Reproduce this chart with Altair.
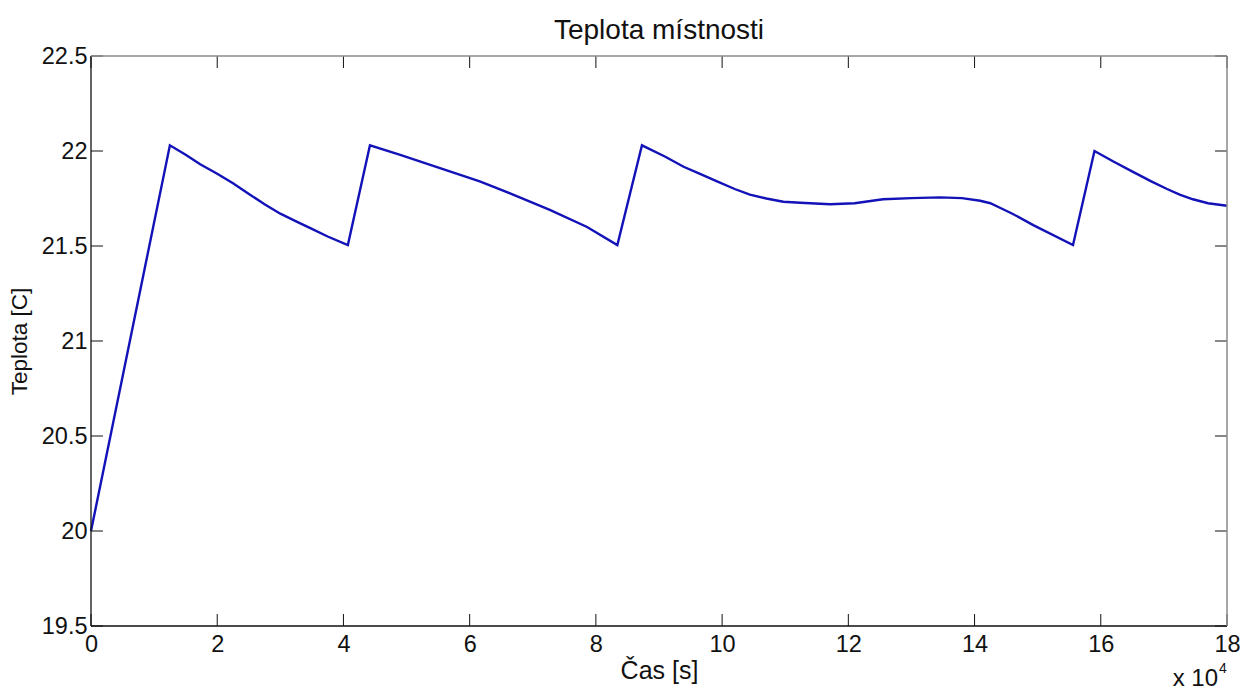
import altair as alt
import pandas as pd

# Room temperature simulation: time [s] and temperature [C]
time_s = [
    0, 12500,
    15000, 17300, 20000, 22500, 25200, 27500, 30000, 32500, 35000, 37500, 40700,
    44200, 49000, 55300, 61600, 66400, 72700, 78600, 83400,
    87300, 91000, 93900, 96500, 99200, 102000, 104400, 107000, 109700, 112400,
    117100, 121000, 125500, 130000, 134500, 138000, 140900, 142500, 144100,
    146000, 149300, 155600,
    159000, 162000, 165100, 168000, 170500, 172500, 174600, 177000, 180000,
]
temp_c = [
    20.00, 22.03,
    21.98, 21.93, 21.88, 21.83, 21.77, 21.72, 21.67, 21.63, 21.59, 21.55, 21.505,
    22.03, 21.98, 21.91, 21.84, 21.777, 21.69, 21.60, 21.505,
    22.03, 21.97, 21.917, 21.88, 21.84, 21.80, 21.77, 21.75, 21.733, 21.728,
    21.72, 21.725, 21.746, 21.752, 21.756, 21.752, 21.738, 21.725, 21.70,
    21.67, 21.61, 21.505,
    22.00, 21.945, 21.89, 21.84, 21.80, 21.77, 21.746, 21.725, 21.712,
]

x_ticks = [0, 20000, 40000, 60000, 80000, 100000, 120000, 140000, 160000, 180000]
y_ticks = [19.5, 20.0, 20.5, 21.0, 21.5, 22.0, 22.5]

W, H = 1136, 570
TICK = 12
FONT = "Liberation Sans"

series = pd.DataFrame({"t": time_s, "T": temp_c})
xt = pd.DataFrame({"t": x_ticks})
yt = pd.DataFrame({"T": y_ticks})

x_scale = alt.Scale(domain=[0, 180000], nice=False, zero=False)
y_scale = alt.Scale(domain=[19.5, 22.5], nice=False, zero=False)

line = alt.Chart(series).mark_line(color="#1212b8", strokeWidth=2.4).encode(
    x=alt.X(
        "t:Q",
        scale=x_scale,
        title="Čas [s]",
        axis=alt.Axis(
            values=x_ticks,
            labelExpr="datum.value / 10000",
            ticks=False,
            domain=False,
            grid=False,
            labelFlush=False,
            labelPadding=6,
            titlePadding=3,
            titleFontSize=25,
        ),
    ),
    y=alt.Y(
        "T:Q",
        scale=y_scale,
        title="Teplota [C]",
        axis=alt.Axis(
            values=y_ticks,
            format="~g",
            ticks=False,
            domain=False,
            grid=False,
            labelFlush=False,
            labelPadding=4,
            titlePadding=10,
            titleFontSize=22.5,
        ),
    ),
)

# inward tick marks on all four sides
tick_bottom = alt.Chart(xt).mark_rule(color="#111", strokeWidth=1).encode(
    x=alt.X("t:Q", scale=x_scale), y=alt.value(H), y2=alt.value(H - TICK)
)
tick_top = alt.Chart(xt).mark_rule(color="#111", strokeWidth=1).encode(
    x=alt.X("t:Q", scale=x_scale), y=alt.value(0), y2=alt.value(TICK)
)
tick_left = alt.Chart(yt).mark_rule(color="#111", strokeWidth=1).encode(
    y=alt.Y("T:Q", scale=y_scale), x=alt.value(0), x2=alt.value(TICK)
)
tick_right = alt.Chart(yt).mark_rule(color="#111", strokeWidth=1).encode(
    y=alt.Y("T:Q", scale=y_scale), x=alt.value(W), x2=alt.value(W - TICK)
)

# axes box: dark left/bottom edges, lighter top/right edges
box = pd.DataFrame({"k": [0]})
edge_left = alt.Chart(box).mark_rule(color="#111", strokeWidth=1.3).encode(
    x=alt.value(0), y=alt.value(0), y2=alt.value(H)
)
edge_bottom = alt.Chart(box).mark_rule(color="#111", strokeWidth=1.3).encode(
    x=alt.value(0), x2=alt.value(W), y=alt.value(H)
)
edge_top = alt.Chart(box).mark_rule(color="#8a8a8a", strokeWidth=1.5).encode(
    x=alt.value(0), x2=alt.value(W), y=alt.value(0)
)
edge_right = alt.Chart(box).mark_rule(color="#8a8a8a", strokeWidth=1.5).encode(
    x=alt.value(W), y=alt.value(0), y2=alt.value(H)
)

# axis exponent "x 10^4"
expo = alt.Chart(box).mark_text(
    text="x 10", font=FONT, fontSize=24, align="right", baseline="alphabetic", color="#111"
).encode(x=alt.value(W - 9), y=alt.value(H + 60))
expo_pow = alt.Chart(box).mark_text(
    text="4", font=FONT, fontSize=14, align="left", baseline="alphabetic", color="#111"
).encode(x=alt.value(W - 8), y=alt.value(H + 47))

chart = (
    alt.layer(
        line,
        tick_bottom, tick_top, tick_left, tick_right,
        edge_left, edge_bottom, edge_top, edge_right,
        expo, expo_pow,
    )
    .properties(
        width=W,
        height=H,
        background="white",
        title=alt.TitleParams("Teplota místnosti", fontSize=28, font=FONT,
                              fontWeight="normal", color="#111", offset=-1),
        autosize=alt.AutoSizeParams(type="none"),
        padding={"left": 91, "top": 56, "right": 32, "bottom": 65},
    )
    .configure_view(stroke=None)
    .configure_axis(
        labelFont=FONT, titleFont=FONT, labelFontSize=23.5,
        labelColor="#111", titleColor="#111", titleFontWeight="normal",
    )
)

chart.save("out.html", embed_options={"renderer": "svg", "actions": False})
